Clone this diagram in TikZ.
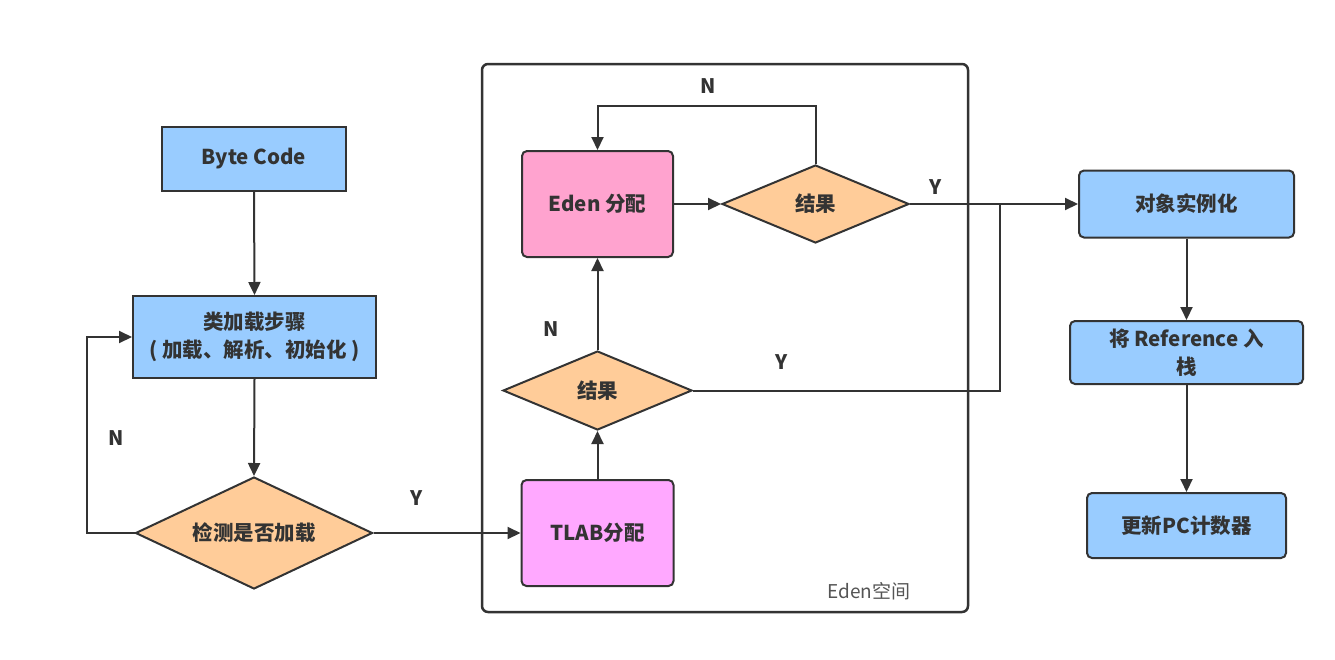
\documentclass[tikz,border=0pt]{standalone}
\usepackage{fontspec}
\setmainfont{Noto Sans CJK SC}
\usetikzlibrary{shapes.geometric,arrows.meta}
\definecolor{ln}{HTML}{333333}
\definecolor{bluef}{HTML}{99CCFF}
\definecolor{orangef}{HTML}{FFCC99}
\definecolor{edenf}{HTML}{FFA3CF}
\definecolor{tlabf}{HTML}{FFA8FF}
\definecolor{grayt}{HTML}{555555}
\tikzset{
  box/.style={draw=ln, line width=2pt, align=center, inner sep=0pt, font=\fontsize{20.5}{28}\selectfont\bfseries, text=ln},
  bluebox/.style={box, fill=bluef},
  rbox/.style={box, rounded corners=5pt},
  dec/.style={draw=ln, line width=2pt, shape=diamond, aspect=2, fill=orangef, inner sep=0pt, font=\fontsize{20.5}{24}\selectfont\bfseries, text=ln},
  conn/.style={draw=ln, line width=2pt},
  arr/.style={conn, -{Triangle[length=13pt,width=12pt]}},
  lbl/.style={font=\fontsize{20}{22}\selectfont\bfseries, text=ln},
  container/.style={draw=ln, line width=2.5pt, rounded corners=6pt}
}
\begin{document}
\begin{tikzpicture}[x=1pt,y=-1pt]
\useasboundingbox (0,0) rectangle (1335,659);
\fill[white] (0,0) rectangle (1335,659);
% container
\node[container, minimum width=486pt, minimum height=548pt] (space) at (725,338) {};
\node[font=\fontsize{19}{20}\selectfont, text=grayt] (spacelbl) at (869,591) {Eden空间};
% left column
\node[bluebox, minimum width=184pt, minimum height=64pt] (bc) at (254,159) {Byte Code};
\node[bluebox, minimum width=243pt, minimum height=82pt] (ld) at (254.5,337) {类加载步骤\\( 加载、解析、初始化 )};
\node[dec, minimum width=237pt, minimum height=112pt] (chk) at (254,533) {检测是否加载};
% middle
\node[rbox, fill=edenf, minimum width=151pt, minimum height=106pt] (eden) at (597.5,204) {Eden 分配};
\node[dec, minimum width=187pt, minimum height=78pt] (r1) at (815.5,204) {结果};
\node[dec, minimum width=189pt, minimum height=79pt] (r2) at (597.5,390.5) {结果};
\node[rbox, fill=tlabf, minimum width=152pt, minimum height=106pt] (tlab) at (597.5,533) {TLAB分配};
% right column
\node[bluebox, rounded corners=5pt, minimum width=215pt, minimum height=67pt] (obj) at (1186.5,204) {对象实例化};
\node[bluebox, rounded corners=5pt, minimum width=233pt, minimum height=63pt] (ref) at (1186.5,352.5) {将 Reference 入\\栈};
\node[bluebox, rounded corners=5pt, minimum width=199pt, minimum height=65pt] (pc) at (1186.5,525.5) {更新PC计数器};
% coordinates
\coordinate (nl) at (87,533);
\coordinate (topn) at (815.5,106);
\coordinate (jn) at (1000,204);
% connectors
\draw[arr] (bc.south) -- (ld.north);
\draw[arr] (ld.south) -- (chk.north);
\draw[arr] (chk.west) -- (nl) |- (ld.west);
\draw[arr] (chk.east) -- (tlab.west);
\draw[arr] (tlab.north) -- (r2.south);
\draw[arr] (r2.north) -- (eden.south);
\draw[arr] (eden.east) -- (r1.west);
\draw[arr] (r1.north) -- (topn) -| (eden.north);
\draw[arr] (r1.east) -- (obj.west);
\draw[conn] (r2.east) -| (jn);
\draw[arr] (obj.south) -- (ref.north);
\draw[arr] (ref.south) -- (pc.north);
% labels
\node[lbl] (lN1) at (116,438) {N};
\node[lbl] (lY1) at (417,498) {Y};
\node[lbl] (lN2) at (708,86) {N};
\node[lbl] (lY2) at (936,187) {Y};
\node[lbl] (lN3) at (551,329) {N};
\node[lbl] (lY3) at (782,362) {Y};
\end{tikzpicture}
\end{document}
